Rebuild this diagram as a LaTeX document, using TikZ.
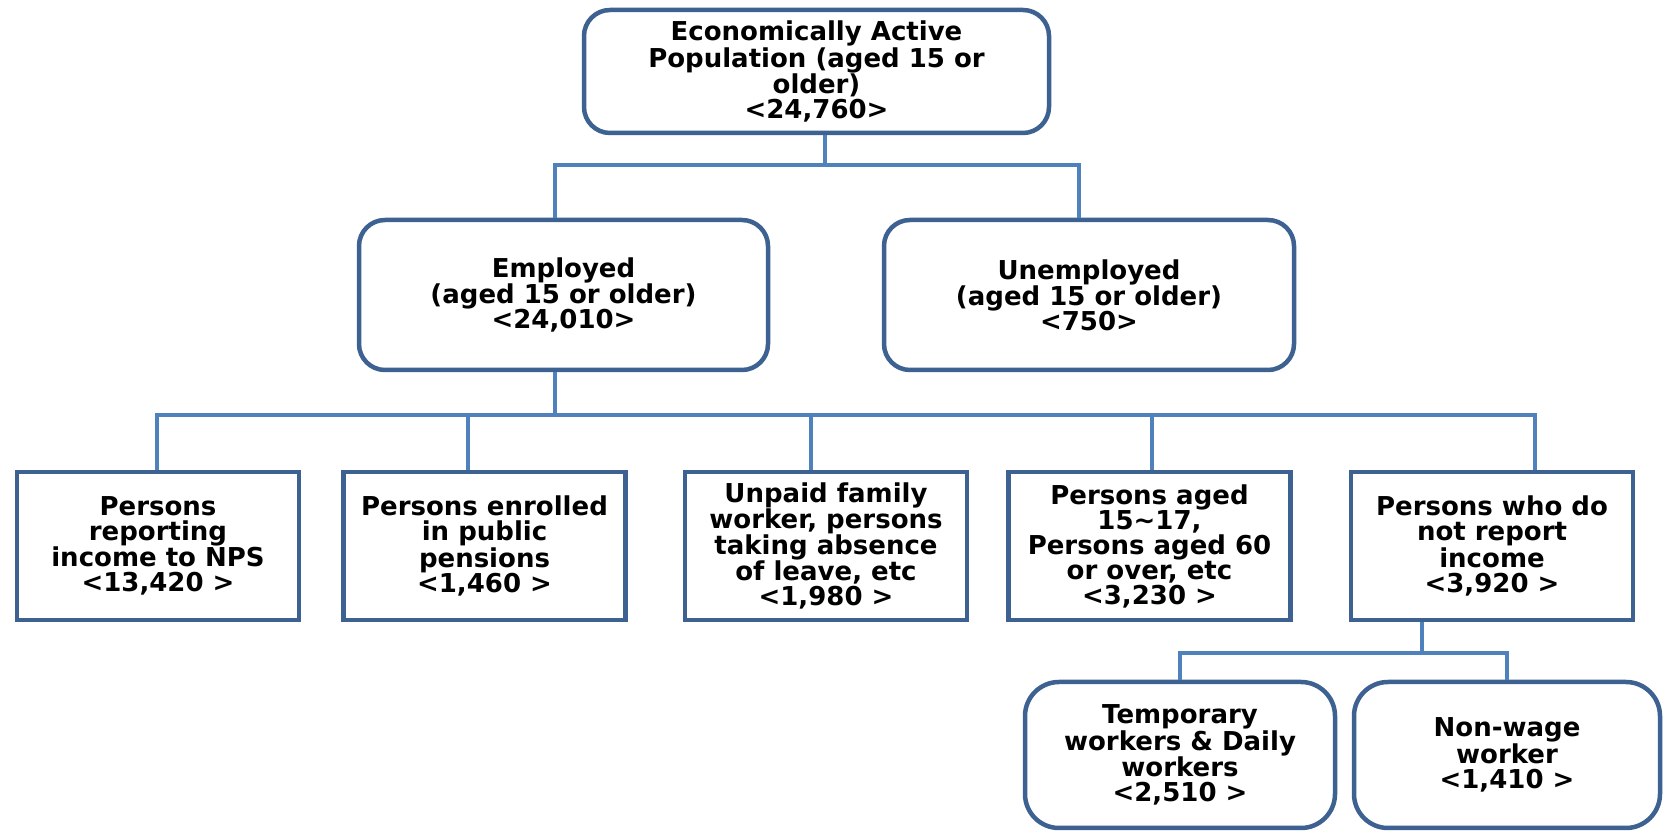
\documentclass[tikz,border=0pt]{standalone}
\usepackage{fontspec}
\setmainfont{DejaVu Sans}
\usepackage{tikz}
\usetikzlibrary{scopes}
\usepackage{xcolor}

\newcommand{\boxfont}{\bfseries\fontsize{26}{25}\selectfont}

\begin{document}
\begin{tikzpicture}[x=1pt,y=1pt,
	roundbox/.style={draw=boxline,line width=4.5pt,rounded corners=26pt,fill=white,
		align=center,inner sep=0pt,font=\boxfont},
	sqbox/.style={draw=boxline,line width=4.5pt,fill=white,align=center,inner sep=0pt,
		font=\boxfont,minimum width=282pt,minimum height=148pt},
	link/.style={draw=linkline,line width=4.5pt}]

\definecolor{boxline}{RGB}{61,98,145};
\definecolor{linkline}{RGB}{79,129,189};

\useasboundingbox [fill=white] (0,0) rectangle (1665,832);

%draw rounded boxes

\node[roundbox,minimum width=465pt,minimum height=123pt] (eap) at (816.5,760.5)
	{Economically Active\\Population (aged 15 or\\older)\\<24,760>};

\node[roundbox,minimum width=409pt,minimum height=150pt] (emp) at (563.5,537)
	{Employed\\(aged 15 or older)\\<24,010>};
\node[roundbox,minimum width=410pt,minimum height=150pt] (unemp) at (1089,537)
	{Unemployed\\(aged 15 or older)\\<750>};

\node[roundbox,rounded corners=34pt,minimum width=310pt,minimum height=146pt] (temp) at (1180,77)
	{Temporary\\workers \& Daily\\workers\\<2,510 >};
\node[roundbox,rounded corners=34pt,minimum width=306pt,minimum height=146pt] (nonw) at (1507,77)
	{Non-wage\\worker\\<1,410 >};

%draw rectangles

\node[sqbox] (nps) at (158,286) {Persons\\reporting\\income to NPS\\<13,420 >};
\node[sqbox] (pub) at (484.5,286) {Persons enrolled\\in public\\pensions\\<1,460 >};
\node[sqbox] (unpaid) at (826,286)
	{Unpaid family\\worker, persons\\taking absence\\of leave, etc\\<1,980 >};
\node[sqbox] (age) at (1149.5,286)
	{Persons aged\\15\textasciitilde17,\\Persons aged 60\\or over, etc\\<3,230 >};
\node[sqbox] (noinc) at (1492,286) {Persons who do\\not report\\income\\<3,920 >};

%draw links
{[link]
	% from eap
	\draw ([xshift=8.5]eap.south) -- ++(0,-30) coordinate (bar1);
	\draw ([xshift=-8.5]emp.north) |- (bar1) -| ([xshift=-10]unemp.north);

	% from emp
	\draw ([xshift=-8.5]emp.south) -- ++(0,-43) coordinate (bar2);
	\draw ([xshift=-1]nps.north) |- (bar2) -| ([xshift=43]noinc.north);
	\foreach \nd/\dx in {pub/-16.5,unpaid/-15,age/2.5}
	\draw ([xshift=\dx]\nd.north) -- ([xshift=\dx]\nd.north |- bar2);

	% from noinc
	\draw ([xshift=-70]noinc.south) -- ++(0,-31) coordinate (bar3);
	\draw (temp.north) |- (bar3) -| (nonw.north);
}

\end{tikzpicture}
\end{document}
